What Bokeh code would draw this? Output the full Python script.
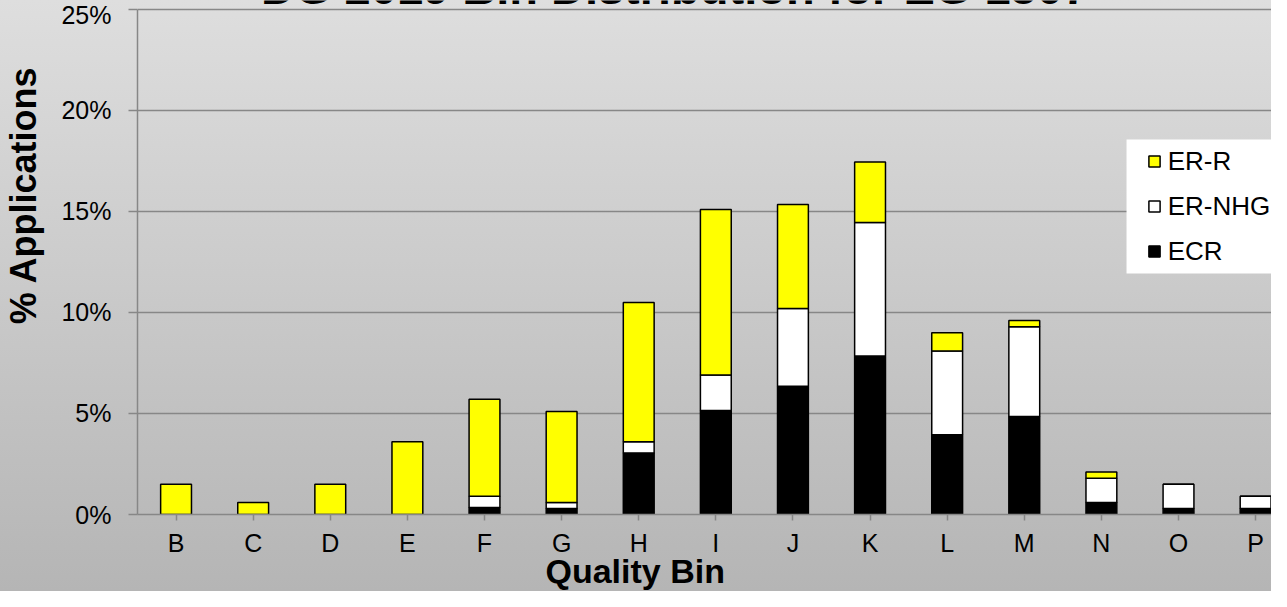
from bokeh.plotting import figure
from bokeh.models import (Range1d, FixedTicker, PrintfTickFormatter, Label, Legend,
                          LegendItem, BoxAnnotation, ColumnDataSource, Title, LinearAxis)
from bokeh.embed import file_html
from bokeh.resources import INLINE

categories = ["B", "C", "D", "E", "F", "G", "H", "I", "J", "K", "L", "M", "N", "O", "P"]
ecr = [0, 0, 0, 0, 0.35, 0.3, 3.05, 5.15, 6.35, 7.85, 3.95, 4.85, 0.6, 0.3, 0.3]
er_nhg = [0, 0, 0, 0, 0.55, 0.3, 0.55, 1.75, 3.85, 6.6, 4.15, 4.45, 1.2, 1.2, 0.6]
er_r = [1.5, 0.6, 1.5, 3.6, 4.8, 4.5, 6.9, 8.2, 5.15, 3.0, 0.9, 0.3, 0.3, 0, 0]
y_ticks = [0, 5, 10, 15, 20, 25]

FONT = "Liberation Sans"
GRAY = "#878787"

xs = list(range(len(categories)))
src = ColumnDataSource(dict(x=xs, ECR=ecr, NHG=er_nhg, R=er_r))

# the frame reaches the top edge so that the (cut-off) title can be drawn in it
p = figure(width=1271, height=591, output_backend="svg", toolbar_location=None,
           x_range=Range1d(-0.5, 14.206), y_range=Range1d(0, 25.4455),
           min_border_left=137, min_border_right=0, min_border_top=0, min_border_bottom=77,
           background_fill_alpha=0, border_fill_alpha=0, outline_line_color=None,
           styles={"background": "linear-gradient(to bottom, #dedede, #b5b5b5)"})

p.xgrid.visible = False
p.ygrid.ticker = FixedTicker(ticks=y_ticks)
p.ygrid.grid_line_color = GRAY
p.ygrid.grid_line_width = 1.5

# axes
p.yaxis.ticker = FixedTicker(ticks=y_ticks)
p.yaxis.bounds = (0, 25)
p.yaxis.formatter = PrintfTickFormatter(format="%d%%")
p.yaxis.axis_line_color = GRAY
p.yaxis.axis_line_width = 1.5
p.yaxis.major_tick_line_color = GRAY
p.yaxis.major_tick_line_width = 1.5
p.yaxis.major_tick_out = 9
p.yaxis.major_tick_in = 0
p.yaxis.minor_tick_line_color = None
p.yaxis.major_label_standoff = 17
p.yaxis.major_label_text_font = FONT
p.yaxis.major_label_text_font_size = "25px"
p.yaxis.major_label_text_color = "black"

p.xaxis.ticker = FixedTicker(ticks=xs)
p.xaxis.major_label_overrides = {i: c for i, c in enumerate(categories)}
p.xaxis.axis_line_color = GRAY
p.xaxis.axis_line_width = 1.5
p.xaxis.major_tick_line_color = GRAY
p.xaxis.major_tick_line_width = 1.5
p.xaxis.major_tick_out = 6
p.xaxis.major_tick_in = 0
p.xaxis.minor_tick_line_color = None
p.xaxis.major_label_standoff = 8
p.xaxis.major_label_text_font = FONT
p.xaxis.major_label_text_font_size = "25px"
p.xaxis.major_label_text_color = "black"

# invisible spacer between the y axis and its title
spacer = LinearAxis(ticker=FixedTicker(ticks=[0]), major_label_overrides={0: ""},
                    axis_line_alpha=0, major_tick_line_alpha=0, minor_tick_line_alpha=0,
                    major_tick_out=15, major_tick_in=0, minor_tick_out=0,
                    major_label_standoff=0, major_label_text_alpha=0)
p.add_layout(spacer, "left")

# legend backdrop
p.add_layout(BoxAnnotation(left=12.326, right=15, bottom=11.93, top=18.56,
                           fill_color="white", fill_alpha=1, line_color=None))

rs = p.vbar_stack(["ECR", "NHG", "R"], x="x", width=0.4, source=src,
                  fill_color=["black", "white", "#FFFF00"], line_color="black",
                  line_width=1.5)

legend = Legend(items=[LegendItem(label="ER-R", renderers=[rs[2]]),
                       LegendItem(label="ER-NHG", renderers=[rs[1]]),
                       LegendItem(label="ECR", renderers=[rs[0]])],
                location=(1009.7, 247.5), glyph_width=14, glyph_height=14,
                label_text_font=FONT, label_text_font_size="26px",
                label_text_color="black",
                label_standoff=7, spacing=14, padding=8, margin=0,
                background_fill_alpha=0, border_line_color=None)
p.add_layout(legend)

# axis titles
p.add_layout(Title(text="% Applications", align="left", offset=190.3,
                   text_font=FONT, text_font_style="bold", text_font_size="36px",
                   text_color="black", standoff=0), "left")
p.add_layout(Title(text="Quality Bin", align="left", offset=408, vertical_align="bottom",
                   text_font=FONT, text_font_style="bold", text_font_size="34px",
                   text_color="black", standoff=-19), "below")

# chart title (cut off at the top, as in the original)
p.add_layout(Label(x=537.5, y=526.6, x_units="screen", y_units="screen",
                   text="DG 2019 Bin Distribution for EG 1507", text_font=FONT,
                   text_font_style="bold", text_font_size="47px", text_align="center",
                   text_baseline="middle", text_color="black"))

open("out.html", "w").write(file_html(p, INLINE))
